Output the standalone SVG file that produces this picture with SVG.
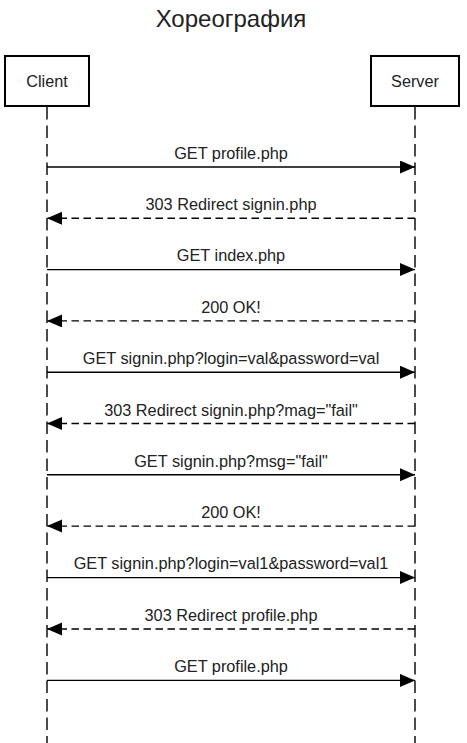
<svg xmlns="http://www.w3.org/2000/svg" width="467" height="743" viewBox="0 0 467 743">
<style>
  .lbl { font-family: "Liberation Sans", Arial, sans-serif; font-size: 16.3px; fill: #222; text-anchor: middle; }
  .title { font-family: "Liberation Sans", Arial, sans-serif; font-size: 24px; fill: #222; text-anchor: middle; }
  .box { fill: #fff; stroke: #000; stroke-width: 2; }
  .life { stroke: #000; stroke-width: 1.4; stroke-dasharray: 12.5 6; fill: none; }
  .req { stroke: #000; stroke-width: 1.4; fill: none; marker-end: url(#ah); }
  .resp { stroke: #000; stroke-width: 1.4; stroke-dasharray: 7.5 4.5; fill: none; marker-end: url(#ah); }
</style>
<defs>
  <marker id="ah" markerUnits="userSpaceOnUse" markerWidth="16" markerHeight="14" refX="15" refY="6.5" orient="auto">
    <path d="M0,0 L15,6.5 L0,13 Z" fill="#000"/>
  </marker>
</defs>
<text class="title" x="231" y="26.5">Хореография</text>
<g id="lifelines">
  <line class="life" x1="47" y1="107" x2="47" y2="743"/>
  <line class="life" x1="415" y1="107" x2="415" y2="743"/>
</g>
<g id="client">
  <rect class="box" x="5" y="56" width="84" height="50"/>
  <text class="lbl" x="47" y="87">Client</text>
</g>
<g id="server">
  <rect class="box" x="371" y="56" width="88" height="50"/>
  <text class="lbl" x="415" y="87">Server</text>
</g>
<g id="connectors">
  <line class="req" x1="47" y1="167" x2="415" y2="167"/>
  <text class="lbl" x="231" y="158.5">GET profile.php</text>
  <line class="resp" x1="415" y1="218.3" x2="47" y2="218.3"/>
  <text class="lbl" x="231" y="210">303 Redirect signin.php</text>
  <line class="req" x1="47" y1="269.6" x2="415" y2="269.6"/>
  <text class="lbl" x="231" y="261.3">GET index.php</text>
  <line class="resp" x1="415" y1="320.9" x2="47" y2="320.9"/>
  <text class="lbl" x="231" y="312.8">200 OK!</text>
  <line class="req" x1="47" y1="372.2" x2="415" y2="372.2"/>
  <text class="lbl" x="231" y="364">GET signin.php?login=val&amp;password=val</text>
  <line class="resp" x1="415" y1="423.5" x2="47" y2="423.5"/>
  <text class="lbl" x="231" y="415.5">303 Redirect signin.php?mag="fail"</text>
  <line class="req" x1="47" y1="474.8" x2="415" y2="474.8"/>
  <text class="lbl" x="231" y="466.6">GET signin.php?msg="fail"</text>
  <line class="resp" x1="415" y1="526.1" x2="47" y2="526.1"/>
  <text class="lbl" x="231" y="518">200 OK!</text>
  <line class="req" x1="47" y1="577.6" x2="415" y2="577.6"/>
  <text class="lbl" x="231" y="569.3">GET signin.php?login=val1&amp;password=val1</text>
  <line class="resp" x1="415" y1="629" x2="47" y2="629"/>
  <text class="lbl" x="231" y="620.8">303 Redirect profile.php</text>
  <line class="req" x1="47" y1="680.4" x2="415" y2="680.4"/>
  <text class="lbl" x="231" y="672">GET profile.php</text>
</g>
</svg>
